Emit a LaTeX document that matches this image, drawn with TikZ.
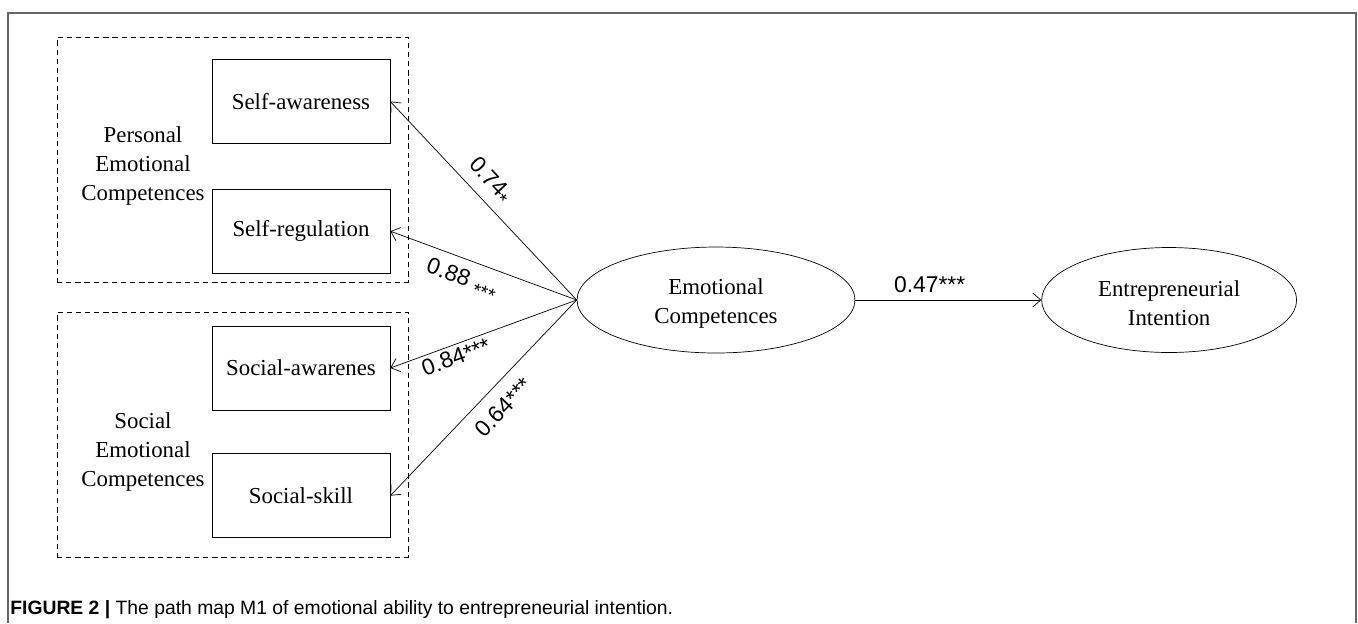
\documentclass[tikz,border=0pt]{standalone}
\usepackage{fontspec}
\setmainfont{Liberation Serif}
\newfontfamily\labelfont{Liberation Sans}
\usetikzlibrary{arrows.meta, positioning, shapes.geometric}

\newcommand{\lowstar}[1]{\raisebox{-3.5pt}{\fontsize{11}{11}\selectfont #1}}

\begin{document}
\begin{tikzpicture}[
    x=0.02cm, y=-0.02cm,
    node distance=0.9cm,
    every node/.style={align=center, font=\fontsize{13}{16.5}\selectfont},
    box/.style={draw, minimum width=3.56cm, minimum height=1.68cm, inner sep=0pt},
    group/.style={draw, dash pattern=on 3pt off 2.2pt, minimum width=7.02cm, minimum height=4.9cm, inner sep=0pt},
    latent/.style={draw, ellipse, inner sep=0pt},
    coef/.style={font=\labelfont\fontsize{13}{15}\selectfont, inner sep=0pt},
    >={Straight Barb[length=1.6mm, width=2.8mm]}
]
\useasboundingbox (0,0) rectangle (1358,623);
\draw[gray!80!black, line width=0.7pt] (8,623) -- (8,13) -- (1356,13) -- (1356,623);

% the two groups of competences
\node[group] (pgroup) at (232.5,159.5) {};
\node[group] (sgroup) at (232.5,434.5) {};
\node (pec) at (143,166) {Personal\\Emotional\\Competences};
\node (sec) at (143,452) {Social\\Emotional\\Competences};

\node[box] (sa) at (301,101.5) {Self-awareness};
\node[box, below=of sa] (sr) {Self-regulation};
\node[box] (soa) at (301,368) {Social-awarenes};
\node[box, below=0.86cm of soa] (ss) {Social-skill};

% latent variables
\node[latent, minimum width=5.56cm, minimum height=2.12cm] (ec) at (716,300) {\\[-4pt]Emotional\\Competences};
\node[latent, minimum width=5.1cm, minimum height=2.1cm, right=3.72cm of ec] (ei) {\\[-4pt]Entrepreneurial\\Intention};

\draw[->] (ec.west) -- node[coef, pos=0.62, rotate=-47, xshift=0.44cm, yshift=0.36cm] {0.74\lowstar{*}} (sa.east);
\draw[->] (ec.west) -- node[coef, pos=0.56, rotate=-20, xshift=-0.08cm, yshift=-0.42cm] {0.88 \lowstar{***}} (sr.east);
\draw[->] (ec.west) -- node[coef, pos=0.69, rotate=20, xshift=0.08cm, yshift=-0.24cm] {0.84***} (soa.east);
\draw[->] (ec.west) -- node[coef, pos=0.54, rotate=46, xshift=0.36cm, yshift=-0.42cm] {0.64***} (ss.east);
\draw[->] (ec) -- node[coef, pos=0.4, above=4pt] {0.47***} (ei);

\node[anchor=base west, inner sep=0pt, font=\labelfont\fontsize{11}{13}\selectfont] (caption) at (10,614)
    {\textbf{FIGURE 2 |} The path map M1 of emotional ability to entrepreneurial intention.};
\end{tikzpicture}
\end{document}
